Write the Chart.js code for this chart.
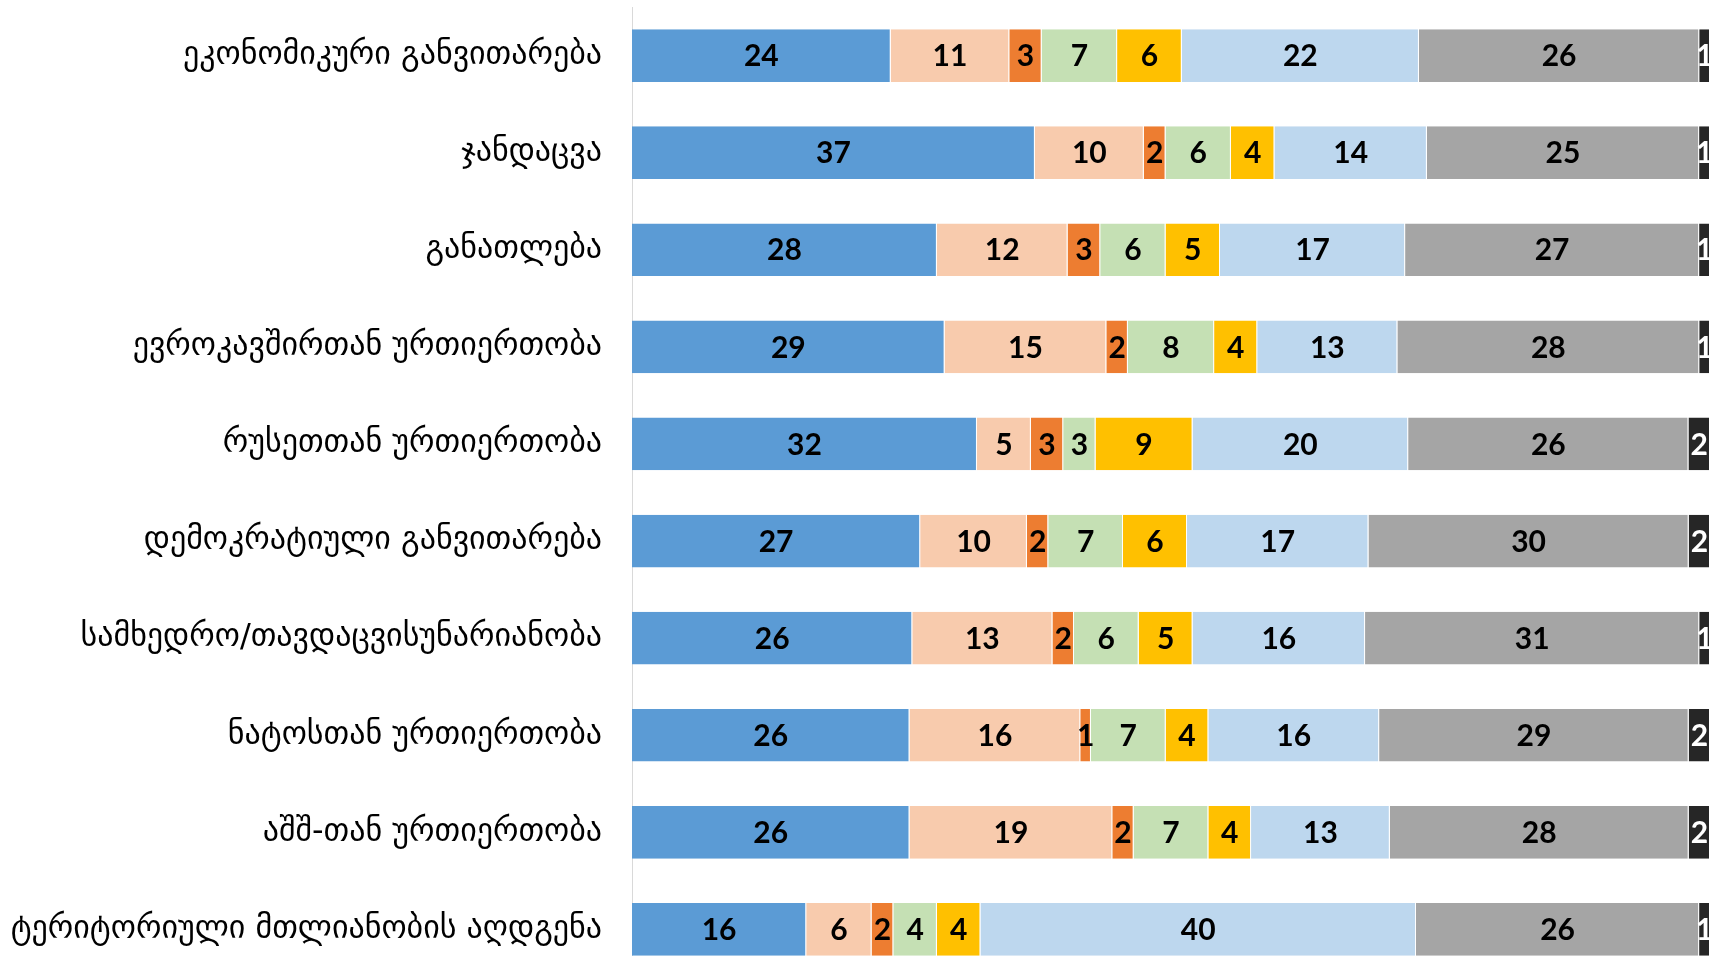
<!DOCTYPE html>
<html>
<head>
<meta charset="utf-8">
<script src="https://cdn.jsdelivr.net/npm/chart.js@4/dist/chart.umd.min.js"></script>
<style>
  html, body { margin: 0; padding: 0; background: #ffffff; overflow: hidden; }
  canvas { display: block; }
</style>
</head>
<body>
<canvas id="c" width="1723" height="986"></canvas>
<script>
// Topics (top to bottom)
const categories = [
  'ეკონომიკური განვითარება',
  'ჯანდაცვა',
  'განათლება',
  'ევროკავშირთან ურთიერთობა',
  'რუსეთთან ურთიერთობა',
  'დემოკრატიული განვითარება',
  'სამხედრო/თავდაცვისუნარიანობა',
  'ნატოსთან ურთიერთობა',
  'აშშ-თან ურთიერთობა',
  'ტერიტორიული მთლიანობის აღდგენა'
];

// Answer shares (%) per topic, one array per answer group
const seriesBlue      = [24, 37, 28, 29, 32, 27, 26, 26, 26, 16];
const seriesPeach     = [11, 10, 12, 15,  5, 10, 13, 16, 19,  6];
const seriesOrange    = [ 3,  2,  3,  2,  3,  2,  2,  1,  2,  2];
const seriesGreen     = [ 7,  6,  6,  8,  3,  7,  6,  7,  7,  4];
const seriesYellow    = [ 6,  4,  5,  4,  9,  6,  5,  4,  4,  4];
const seriesLightBlue = [22, 14, 17, 13, 20, 17, 16, 16, 13, 40];
const seriesGray      = [26, 25, 27, 28, 26, 30, 31, 29, 28, 26];
const seriesDark      = [ 1,  1,  1,  1,  2,  2,  1,  2,  2,  1];

const seriesList = [
  { values: seriesBlue,      color: '#5B9BD5', text: '#000000' },
  { values: seriesPeach,     color: '#F8CBAD', text: '#000000' },
  { values: seriesOrange,    color: '#ED7D31', text: '#000000' },
  { values: seriesGreen,     color: '#C5E0B4', text: '#000000' },
  { values: seriesYellow,    color: '#FFC000', text: '#000000' },
  { values: seriesLightBlue, color: '#BDD7EE', text: '#000000' },
  { values: seriesGray,      color: '#A5A5A5', text: '#000000' },
  { values: seriesDark,      color: '#262626', text: '#FFFFFF' }
];

// Each bar fills 100%: segment length = share of the row total
const rowTotals = categories.map((_, i) =>
  seriesList.reduce((sum, s) => sum + s.values[i], 0));

const datasets = seriesList.map((s, k) => ({
  label: 'series' + (k + 1),
  data: s.values.map((v, i) => v / rowTotals[i] * 100),
  raw: s.values,
  textColor: s.text,
  backgroundColor: s.color,
  borderColor: 'rgba(255,255,255,0.55)',
  borderWidth: { left: 0, right: 1, top: 0, bottom: 0 },
  borderSkipped: false,
  categoryPercentage: 1,
  barPercentage: 0.543
}));

// Value labels centred in each segment
const segmentLabels = {
  id: 'segmentLabels',
  afterDatasetsDraw(chart) {
    const ctx = chart.ctx;
    ctx.save();
    ctx.font = 'bold 30px Lato, "Open Sans", sans-serif';
    ctx.textAlign = 'center';
    ctx.textBaseline = 'middle';
    chart.data.datasets.forEach((ds, di) => {
      const meta = chart.getDatasetMeta(di);
      meta.data.forEach((bar, i) => {
        const p = bar.getCenterPoint();
        ctx.fillStyle = ds.textColor;
        ctx.fillText(String(ds.raw[i]), p.x, p.y + 1);
      });
    });
    ctx.restore();
  }
};

new Chart(document.getElementById('c'), {
  type: 'bar',
  data: { labels: categories, datasets },
  plugins: [segmentLabels],
  options: {
    indexAxis: 'y',
    responsive: false,
    animation: false,
    layout: { padding: { top: 7, right: 13, bottom: 8, left: 0 } },
    plugins: {
      legend: { display: false },
      tooltip: { enabled: false }
    },
    scales: {
      x: {
        stacked: true,
        min: 0,
        max: 100,
        display: false
      },
      y: {
        stacked: true,
        grid: { display: false, drawTicks: false },
        border: { display: true, color: '#D9D9D9', width: 1 },
        afterFit(scale) {
          scale.width = 632;
          scale.paddingTop = 0;
          scale.paddingBottom = 0;
        },
        ticks: {
          padding: 30,
          color: '#000000',
          font: { family: '"DejaVu Sans", sans-serif', size: 32 }
        }
      }
    }
  }
});
</script>
</body>
</html>
